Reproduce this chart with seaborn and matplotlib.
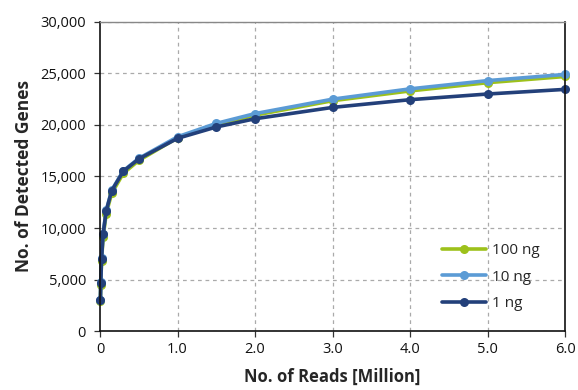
import numpy as np
import pandas as pd
import matplotlib
matplotlib.use("Agg")
import matplotlib.pyplot as plt
import seaborn as sns

reads = [0.005, 0.01, 0.02, 0.04, 0.08, 0.15, 0.3, 0.5, 1.0, 1.5, 2.0, 3.0, 4.0, 5.0, 6.0]
genes_100ng = [2900, 4500, 6800, 9100, 11400, 13350, 15300, 16550, 18750, 20000, 20950, 22350, 23300, 24100, 24700]
genes_10ng = [3000, 4750, 7050, 9450, 11700, 13650, 15550, 16750, 18850, 20150, 21100, 22500, 23500, 24300, 24900]
genes_1ng = [3000, 4700, 7000, 9400, 11650, 13600, 15500, 16700, 18700, 19800, 20600, 21700, 22450, 23000, 23450]
series_names = ["100 ng", "10 ng", "1 ng"]
colors = ["#9dc11b", "#5b9bd5", "#23407a"]
xticks = [0, 1, 2, 3, 4, 5, 6]
xticklabels = ["0", "1.0", "2.0", "3.0", "4.0", "5.0", "6.0"]
yticks = [0, 5000, 10000, 15000, 20000, 25000, 30000]

df = pd.concat([
    pd.DataFrame({"reads": reads, "genes": g, "sample": n})
    for g, n in zip([genes_100ng, genes_10ng, genes_1ng], series_names)
])

sns.set_style("white")
plt.rcParams["font.family"] = ["Open Sans", "DejaVu Sans"]

fig = plt.figure(figsize=(5.78, 3.9), dpi=100)
ax = fig.add_axes([0.173, 0.151, 0.805, 0.793])

sns.lineplot(data=df, x="reads", y="genes", hue="sample", hue_order=series_names,
             palette=colors, marker="o", markersize=6.5, markeredgewidth=0,
             linewidth=2.6, ax=ax, sort=False, clip_on=False)

ax.set_xlim(0, 6.0)
ax.set_ylim(0, 30000)
ax.set_xticks(xticks)
ax.set_xticklabels(xticklabels)
ax.set_yticks(yticks)
ax.set_yticklabels([f"{v:,}" for v in yticks])
ax.grid(True, color="#aaaaaa", linestyle=(0, (3, 3)), linewidth=0.9)
ax.xaxis.get_gridlines()[0].set_visible(False)
ax.set_axisbelow(True)

for s in ["left", "bottom", "right"]:
    ax.spines[s].set_color("#111111")
    ax.spines[s].set_linewidth(1.2)
ax.spines["top"].set_color("#888888")
ax.spines["top"].set_linewidth(1.0)

ax.tick_params(axis="both", direction="out", length=4, width=0.9, color="#333333",
               labelsize=10.5, labelcolor="#111111", bottom=True, left=True)
ax.tick_params(axis="y", pad=6)
ax.tick_params(axis="x", pad=4)

ax.set_xlabel("No. of Reads [Million]", fontsize=12, fontweight="bold", labelpad=8)
ax.set_ylabel("No. of Detected Genes", fontsize=12.5, fontweight="bold", labelpad=5)

leg = ax.legend(title=None, frameon=False, loc="lower right", bbox_to_anchor=(0.975, 0.02),
                fontsize=11, handlelength=2.9, labelspacing=0.75, handletextpad=0.4)

fig.savefig("out.png", dpi=100)
